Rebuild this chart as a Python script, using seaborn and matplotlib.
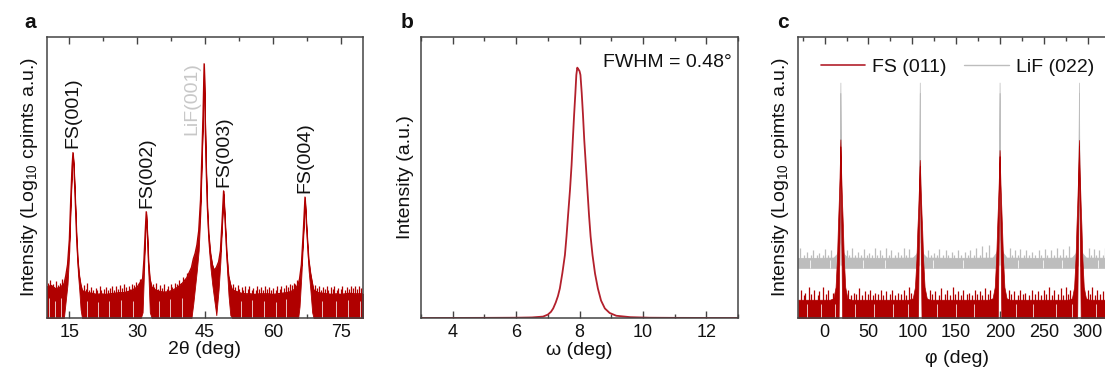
import numpy as np
import pandas as pd
import matplotlib
matplotlib.use("Agg")
import matplotlib.pyplot as plt
from matplotlib.ticker import MultipleLocator, NullLocator
import seaborn as sns

# ---------------- data ----------------
# Panel a: 2theta scan, log10 intensity (arbitrary offset); envelope of noisy trace
tt = [10, 11, 12, 13, 13.8, 14.2, 14.6, 15.0, 15.3, 15.6, 15.8, 16.0, 16.3, 16.6, 16.9, 17.2, 17.5, 17.8,
      18, 19, 20, 21, 22, 23, 24, 25, 26, 27, 28, 29, 30, 30.8,
      31.2, 31.5, 31.75, 32.0, 32.25, 32.5, 32.8, 33.2, 34,
      35, 36, 37, 38, 39, 40, 41, 42.0, 42.4, 42.8, 43.2, 43.6, 44.0, 44.3, 44.55, 44.8, 45.0, 45.2,
      45.5, 45.8, 46.2, 46.6, 47.0, 47.5, 48.0, 48.4, 48.75, 49.1, 49.45, 49.8, 50.2, 50.6, 51.0,
      52, 53, 54, 55, 56, 57, 58, 59, 60, 61, 62, 63, 64, 65, 65.6,
      65.9, 66.3, 66.7, 67.1, 67.5, 67.9, 68.3, 68.7, 69.0,
      70, 71, 72, 73, 74, 75, 76, 77, 78, 79, 80]
tt_hi = [0.55, 0.58, 0.52, 0.55, 0.60, 0.75, 0.95, 1.40, 2.10, 2.70, 2.94, 2.70, 2.10, 1.45, 1.00, 0.75, 0.60, 0.50,
         0.48, 0.45, 0.44, 0.42, 0.43, 0.42, 0.43, 0.44, 0.45, 0.45, 0.47, 0.50, 0.55, 0.65,
         0.70, 1.05, 1.50, 1.89, 1.50, 1.00, 0.70, 0.55, 0.50,
         0.47, 0.46, 0.47, 0.50, 0.55, 0.62, 0.72, 0.90, 1.05, 1.15, 1.30, 1.55, 2.10, 2.90, 3.60, 4.52, 3.60, 2.80,
         2.00, 1.50, 1.15, 0.95, 0.85, 0.90, 1.00, 1.20, 1.70, 2.26, 1.70, 1.15, 0.75, 0.60, 0.50,
         0.47, 0.44, 0.43, 0.43, 0.42, 0.43, 0.43, 0.43, 0.42, 0.43, 0.44, 0.45, 0.47, 0.52, 0.60,
         0.70, 0.95, 1.50, 2.15, 1.55, 1.05, 0.80, 0.62, 0.50,
         0.45, 0.44, 0.43, 0.42, 0.43, 0.42, 0.43, 0.44, 0.43, 0.43, 0.43]
tt_lo = [0, 0, 0, 0, 0, 0.30, 0.60, 1.20, 2.00, 2.65, 2.90, 2.65, 2.00, 1.30, 0.80, 0.50, 0.15, 0,
         0, 0, 0, 0, 0, 0, 0, 0, 0, 0, 0, 0, 0, 0,
         0.10, 0.80, 1.40, 1.85, 1.40, 0.75, 0.10, 0, 0,
         0, 0, 0, 0, 0, 0, 0, 0, 0.25, 0.55, 0.85, 1.20, 1.90, 2.80, 3.55, 4.45, 3.55, 2.70,
         1.85, 1.30, 0.90, 0.60, 0.35, 0.05, 0.50, 1.00, 1.60, 2.20, 1.60, 0.95, 0.40, 0.05, 0,
         0, 0, 0, 0, 0, 0, 0, 0, 0, 0, 0, 0, 0, 0, 0,
         0.20, 0.75, 1.40, 2.10, 1.45, 0.85, 0.50, 0.10, 0,
         0, 0, 0, 0, 0, 0, 0, 0, 0, 0, 0]
tt_spike_x = [10.2, 10.5, 10.8, 11.3, 11.6, 12.0, 12.5, 12.9, 13.3, 13.6,
              18.2, 18.6, 18.9, 19.4, 19.9, 20.3, 20.9, 21.2, 21.8, 22.1, 22.6, 23.1, 23.5, 24.0, 24.4, 24.9,
              25.3, 25.8, 26.2, 26.7, 27.0, 27.6, 28.1, 28.5, 28.9, 29.4, 29.8, 30.3, 30.6,
              33.4, 33.8, 34.2, 34.7, 35.1, 35.6, 36.0, 36.5, 36.9, 37.4, 37.8, 38.3, 38.7, 39.2, 39.6, 40.1,
              40.6, 41.0, 41.5, 41.8,
              51.3, 51.7, 52.2, 52.6, 53.1, 53.5, 53.9, 54.4, 54.8, 55.3, 55.7, 56.2, 56.6, 57.0, 57.4, 57.9,
              58.3, 58.8, 59.2, 59.7, 60.1, 60.6, 61.0, 61.5, 61.9, 62.4, 62.8, 63.3, 63.7, 64.2, 64.6, 65.0, 65.4,
              69.3, 69.7, 70.1, 70.6, 71.0, 71.5, 71.9, 72.3, 72.8, 73.2, 73.6, 74.1, 74.5, 75.0, 75.4, 75.9,
              76.3, 76.8, 77.2, 77.7, 78.1, 78.6, 79.0, 79.5, 79.9]
tt_spike_y = [0.62, 0.55, 0.68, 0.60, 0.52, 0.66, 0.58, 0.63, 0.70, 0.62,
              0.58, 0.52, 0.62, 0.50, 0.55, 0.49, 0.53, 0.50, 0.56, 0.49, 0.52, 0.55, 0.50, 0.54, 0.57, 0.50,
              0.56, 0.52, 0.58, 0.53, 0.60, 0.55, 0.57, 0.52, 0.61, 0.58, 0.64, 0.62, 0.70,
              0.60, 0.55, 0.62, 0.52, 0.58, 0.54, 0.60, 0.52, 0.56, 0.60, 0.55, 0.63, 0.60, 0.67, 0.62, 0.72,
              0.70, 0.80, 0.78, 0.88,
              0.60, 0.55, 0.58, 0.52, 0.55, 0.50, 0.56, 0.52, 0.57, 0.50, 0.54, 0.50, 0.56, 0.51, 0.55, 0.50,
              0.57, 0.52, 0.55, 0.50, 0.54, 0.50, 0.56, 0.52, 0.57, 0.53, 0.58, 0.55, 0.60, 0.58, 0.63, 0.60, 0.68,
              0.58, 0.54, 0.56, 0.50, 0.55, 0.52, 0.56, 0.50, 0.55, 0.52, 0.56, 0.50, 0.54, 0.52, 0.56, 0.50,
              0.55, 0.52, 0.57, 0.53, 0.56, 0.52, 0.56, 0.53, 0.55]
tt_dip_x = [10.6, 11.9, 13.1, 18.8, 21.4, 23.7, 26.5, 29.1, 34.9, 37.2, 39.9,
            52.9, 55.5, 58.1, 60.8, 63.0, 70.8, 73.9, 76.6, 79.2]
tt_dip_y = [0.35, 0.30, 0.35, 0.30, 0.28, 0.30, 0.32, 0.30, 0.30, 0.33, 0.35,
            0.30, 0.32, 0.30, 0.28, 0.33, 0.30, 0.30, 0.32, 0.30]
peak_labels = ["FS(001)", "FS(002)", "LiF(001)", "FS(003)", "FS(004)"]
peak_label_x = [15.8, 32.05, 42.0, 49.1, 67.1]
peak_label_y = [3.02, 1.96, 3.25, 2.33, 2.22]
peak_label_col = ["#111111", "#111111", "#c8c8c8", "#111111", "#111111"]

# Panel b: rocking curve
omega = [3.0, 5.0, 6.0, 6.5, 6.85, 7.0, 7.1, 7.17, 7.25, 7.32, 7.38, 7.46, 7.54, 7.59, 7.64, 7.70, 7.75,
         7.79, 7.83, 7.87, 7.90, 7.93, 7.96, 8.0, 8.03, 8.07, 8.11, 8.15, 8.20, 8.25, 8.30, 8.35, 8.41,
         8.49, 8.58, 8.68, 8.80, 8.95, 9.16, 9.6, 10.2, 11.0, 13.0]
omega_int = [0.0, 0.0005, 0.001, 0.002, 0.005, 0.012, 0.022, 0.034, 0.055, 0.078, 0.105, 0.160, 0.224,
             0.290, 0.366, 0.455, 0.544, 0.635, 0.722, 0.800, 0.864, 0.890, 0.885, 0.878, 0.864, 0.800,
             0.722, 0.633, 0.544, 0.455, 0.366, 0.290, 0.224, 0.158, 0.105, 0.062, 0.034, 0.018, 0.008,
             0.003, 0.001, 0.0005, 0.0]

# Panel c: phi scans (normalised log intensity)
phi_fs = [-30, -20, -10, 0, 6,
          10, 12.5, 14.2, 15.2, 16.0, 17.0, 18, 19.0, 20.0, 20.8, 21.8, 23.5, 26,
          30, 40, 60, 80, 92, 96,
          100.5, 103, 104.7, 105.7, 106.5, 107.5, 108.5, 109.5, 110.5, 111.3, 112.3, 114, 116.5,
          120, 140, 160, 175, 183, 187,
          191.5, 194, 195.7, 196.7, 197.5, 198.5, 199.5, 200.5, 201.5, 202.3, 203.3, 205, 207.5,
          211, 230, 250, 268, 274, 278,
          282, 284.5, 286.2, 287.2, 288, 289, 290, 291, 292, 292.8, 293.8, 295.5, 298,
          302, 315, 331]
phi_fs_hi = [0.065, 0.065, 0.065, 0.065, 0.065,
             0.07, 0.11, 0.22, 0.33, 0.40, 0.50, 0.635, 0.50, 0.40, 0.33, 0.22, 0.11, 0.07,
             0.065, 0.065, 0.065, 0.065, 0.065, 0.065,
             0.07, 0.11, 0.21, 0.31, 0.37, 0.46, 0.562, 0.46, 0.37, 0.31, 0.21, 0.11, 0.07,
             0.065, 0.065, 0.065, 0.065, 0.065, 0.065,
             0.07, 0.11, 0.22, 0.32, 0.39, 0.48, 0.597, 0.48, 0.39, 0.32, 0.22, 0.11, 0.07,
             0.065, 0.065, 0.065, 0.065, 0.065, 0.065,
             0.07, 0.11, 0.22, 0.33, 0.40, 0.50, 0.633, 0.50, 0.40, 0.33, 0.22, 0.11, 0.07,
             0.065, 0.065, 0.065]
phi_fs_lo = [0, 0, 0, 0, 0,
             0, 0, 0, 0, 0, 0.30, 0.61, 0.30, 0, 0, 0, 0, 0,
             0, 0, 0, 0, 0, 0,
             0, 0, 0, 0, 0, 0.28, 0.54, 0.28, 0, 0, 0, 0, 0,
             0, 0, 0, 0, 0, 0,
             0, 0, 0, 0, 0, 0.29, 0.575, 0.29, 0, 0, 0, 0, 0,
             0, 0, 0, 0, 0, 0,
             0, 0, 0, 0, 0, 0.30, 0.61, 0.30, 0, 0, 0, 0, 0,
             0, 0, 0]
phi_lif = [-30, -10, 10, 14, 16, 17, 18, 19, 20, 22, 26,
           60, 100.5, 104.5, 106.5, 107.5, 108.5, 109.5, 110.5, 112.5, 116.5,
           150, 191.5, 195.5, 197.5, 198.5, 199.5, 200.5, 201.5, 203.5, 207.5,
           240, 282, 286, 288, 289, 290, 291, 292, 294, 298, 331]
phi_lif_hi = [0.214, 0.214, 0.215, 0.228, 0.245, 0.27, 0.837, 0.27, 0.245, 0.228, 0.215,
              0.214, 0.215, 0.228, 0.245, 0.27, 0.837, 0.27, 0.245, 0.228, 0.215,
              0.214, 0.215, 0.232, 0.25, 0.28, 0.837, 0.28, 0.25, 0.232, 0.215,
              0.214, 0.215, 0.23, 0.25, 0.275, 0.837, 0.275, 0.25, 0.23, 0.215, 0.214]
phi_lif_lo = [0.178, 0.178, 0.178, 0.178, 0.182, 0.19, 0.80, 0.19, 0.182, 0.178, 0.178,
              0.178, 0.178, 0.178, 0.182, 0.19, 0.80, 0.19, 0.182, 0.178, 0.178,
              0.178, 0.178, 0.178, 0.182, 0.19, 0.80, 0.19, 0.182, 0.178, 0.178,
              0.178, 0.178, 0.178, 0.182, 0.19, 0.80, 0.19, 0.182, 0.178, 0.178, 0.178]
fs_spike_x = [-27, -24, -22, -18, -15, -12, -8, -6, -2, 2, 4, 9, 27, 30, 33, 36, 39, 43, 46, 49, 52, 55, 58,
              61, 64, 67, 70, 74, 77, 80, 84, 87, 90, 93, 96, 99, 120, 123, 126, 130, 133, 137, 140, 143, 146,
              149, 152, 155, 158, 162, 165, 168, 171, 174, 177, 180, 183, 186, 189, 210, 213, 216, 220, 223,
              226, 229, 233, 236, 240, 243, 247, 250, 253, 256, 259, 262, 266, 269, 272, 275, 278, 280, 300,
              303, 305, 308, 311, 314, 317, 321, 324, 328]
fs_spike_y = [0.10, 0.08, 0.09, 0.11, 0.085, 0.10, 0.08, 0.095, 0.11, 0.085, 0.10, 0.09, 0.10, 0.08, 0.09, 0.085,
              0.105, 0.08, 0.095, 0.085, 0.10, 0.08, 0.09, 0.085, 0.10, 0.08, 0.095, 0.085, 0.10, 0.08, 0.09,
              0.085, 0.10, 0.08, 0.11, 0.09, 0.10, 0.085, 0.095, 0.08, 0.105, 0.085, 0.10, 0.08, 0.11, 0.085,
              0.095, 0.08, 0.10, 0.085, 0.09, 0.08, 0.10, 0.085, 0.095, 0.08, 0.105, 0.085, 0.10, 0.10, 0.085,
              0.095, 0.08, 0.10, 0.085, 0.09, 0.08, 0.10, 0.085, 0.095, 0.08, 0.10, 0.085, 0.11, 0.08, 0.10,
              0.085, 0.105, 0.08, 0.11, 0.085, 0.10, 0.10, 0.085, 0.11, 0.08, 0.10, 0.085, 0.095, 0.08, 0.11, 0.09]
lif_spike_x = [-28, -24, -20, -16, -13, -9, -6, -2, 1, 4, 7, 25, 28, 31, 35, 38, 41, 45, 48, 51, 54, 57, 60,
               63, 66, 70, 73, 76, 80, 84, 87, 90, 93, 96, 118, 121, 125, 128, 131, 135, 138, 141, 145, 148,
               152, 156, 160, 163, 166, 170, 173, 177, 180, 184, 187, 211, 214, 217, 220, 223, 227, 230, 233,
               237, 240, 244, 247, 251, 254, 258, 261, 265, 268, 272, 275, 279, 301, 304, 307, 310, 313, 317,
               320, 323, 327]
lif_spike_y = [0.25, 0.225, 0.235, 0.225, 0.24, 0.225, 0.23, 0.225, 0.245, 0.225, 0.24, 0.24, 0.225, 0.25,
               0.225, 0.235, 0.225, 0.245, 0.225, 0.23, 0.225, 0.25, 0.225, 0.24, 0.225, 0.25, 0.225, 0.24,
               0.225, 0.235, 0.225, 0.25, 0.225, 0.245, 0.24, 0.225, 0.23, 0.225, 0.245, 0.225, 0.24, 0.225,
               0.235, 0.225, 0.24, 0.225, 0.235, 0.225, 0.24, 0.225, 0.25, 0.225, 0.255, 0.235, 0.26, 0.25,
               0.225, 0.24, 0.225, 0.245, 0.225, 0.24, 0.225, 0.235, 0.225, 0.24, 0.225, 0.245, 0.225, 0.24,
               0.225, 0.25, 0.225, 0.245, 0.225, 0.255, 0.25, 0.225, 0.245, 0.225, 0.24, 0.225, 0.25, 0.225, 0.245]
fs_dip_x = [-20, -4, 12, 35, 56, 78, 95, 128, 150, 170, 218, 238, 264, 282, 309, 326]
lif_dip_x = [-17, 6, 44, 69, 124, 158, 221, 249, 271, 312]

# ---------------- style ----------------
sns.set_theme(style="ticks")
plt.rcParams["font.family"] = ["Liberation Sans", "DejaVu Sans"]
plt.rcParams["mathtext.fontset"] = "custom"
plt.rcParams["mathtext.rm"] = "Liberation Sans"
plt.rcParams["axes.edgecolor"] = "#444444"
plt.rcParams["axes.linewidth"] = 1.1

RED = "#b00000"
LRED = "#b3202c"
GREY = "#bdbdbd"
TXT = "#111111"
FS = 13      # tick labels
FL = 14      # labels / annotations

fig = plt.figure(figsize=(11.05, 3.70), dpi=100)
W, H = 1105.0, 370.0
ax_a = fig.add_axes([46.7 / W, 52 / H, 316.6 / W, 281.3 / H])
ax_b = fig.add_axes([421 / W, 52 / H, 317 / W, 281.3 / H])
ax_c = fig.add_axes([798.3 / W, 52 / H, 316.6 / W, 281.3 / H])


def style_axis(ax, major, minor):
    ax.xaxis.set_major_locator(MultipleLocator(major))
    ax.xaxis.set_minor_locator(MultipleLocator(minor))
    ax.yaxis.set_major_locator(NullLocator())
    ax.yaxis.set_minor_locator(NullLocator())
    ax.tick_params(axis="x", which="both", direction="in", top=True, bottom=True,
                   colors="#444444", labelcolor=TXT, labelsize=FS, pad=4)
    ax.tick_params(axis="x", which="major", length=5, width=1.0)
    ax.tick_params(axis="x", which="minor", length=3, width=1.0)
    for s in ax.spines.values():
        s.set_visible(True)


# ---- panel a ----
ax_a.fill_between(tt, tt_lo, tt_hi, color=RED, lw=0.6, edgecolor=RED)
sns.lineplot(x=tt, y=tt_hi, ax=ax_a, color=RED, lw=0.9)
ax_a.vlines(tt_spike_x, 0, tt_spike_y, color=RED, lw=0.9)
ax_a.vlines(tt_dip_x, 0, tt_dip_y, color="white", lw=0.7, alpha=0.75)
ax_a.set_xlim(10, 80)
ax_a.set_ylim(0, 5.0)
style_axis(ax_a, 15, 7.5)
ax_a.set_xlabel("2θ (deg)", fontsize=FL, color=TXT, labelpad=0)
ax_a.set_ylabel(r"Intensity (Log$_{\mathregular{10}}$ cpimts a.u.)", fontsize=FL, color=TXT, labelpad=5)
for lab, x, y, c in zip(peak_labels, peak_label_x, peak_label_y, peak_label_col):
    ax_a.text(x, y, lab, rotation=90, ha="center", va="bottom", fontsize=FL, color=c)

# ---- panel b ----
sns.lineplot(x=omega, y=omega_int, ax=ax_b, color=LRED, lw=1.3)
ax_b.set_xlim(3, 13)
ax_b.set_ylim(0, 1.0)
style_axis(ax_b, 2, 1)
ax_b.set_xlabel("ω (deg)", fontsize=FL, color=TXT, labelpad=1)
ax_b.set_ylabel("Intensity (a.u.)", fontsize=FL, color=TXT, labelpad=5)
ax_b.text(0.981, 0.91, "FWHM = 0.48°", transform=ax_b.transAxes, ha="right", va="center",
          fontsize=FL, color=TXT)

# ---- panel c ----
ax_c.fill_between(phi_lif, phi_lif_lo, phi_lif_hi, color=GREY, lw=0.5, edgecolor=GREY)
ax_c.vlines(lif_spike_x, 0.2, lif_spike_y, color=GREY, lw=0.9)
ax_c.vlines(lif_dip_x, 0.178, 0.205, color="white", lw=0.7, alpha=0.8)
ax_c.fill_between(phi_fs, phi_fs_lo, phi_fs_hi, color=RED, lw=0.5, edgecolor=RED)
ax_c.vlines(fs_spike_x, 0, fs_spike_y, color=RED, lw=0.9)
ax_c.vlines(fs_dip_x, 0, 0.05, color="white", lw=0.7, alpha=0.75)
ax_c.plot([], [], color=LRED, lw=1.2, label="FS (011)")
ax_c.plot([], [], color=GREY, lw=1.0, label="LiF (022)")
ax_c.legend(loc="upper left", bbox_to_anchor=(0.015, 0.985), ncol=2, frameon=False, fontsize=FL,
            handlelength=2.3, columnspacing=0.9, handletextpad=0.35, labelcolor=TXT)
ax_c.set_xlim(-30, 331)
ax_c.set_ylim(0, 1.0)
style_axis(ax_c, 50, 25)
ax_c.set_xlabel("φ (deg)", fontsize=FL, color=TXT, labelpad=7)
ax_c.set_ylabel(r"Intensity (Log$_{\mathregular{10}}$ cpimts a.u.)", fontsize=FL, color=TXT, labelpad=5)

# panel letters
fig.text(30 / W, 1 - 23 / H, "a", fontsize=15, fontweight="bold", ha="center", va="center", color=TXT)
fig.text(407 / W, 1 - 23 / H, "b", fontsize=15, fontweight="bold", ha="center", va="center", color=TXT)
fig.text(783 / W, 1 - 23 / H, "c", fontsize=15, fontweight="bold", ha="center", va="center", color=TXT)

fig.savefig("out.png", dpi=100)
